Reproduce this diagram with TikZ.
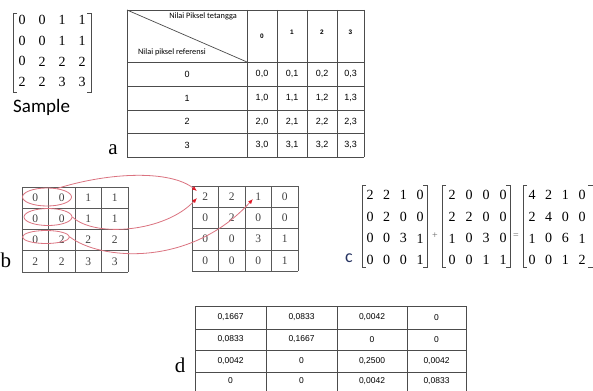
\documentclass[tikz,border=0pt]{standalone}
\usepackage{fontspec}
\setmainfont{Liberation Serif}
\newfontfamily\carl{Carlito}
\newfontfamily\arl{Liberation Sans}
\usetikzlibrary{arrows.meta,shapes.geometric}
\definecolor{gridc}{gray}{0.35}
\definecolor{tabc}{gray}{0.3}
\definecolor{curvec}{rgb}{0.86,0.45,0.5}
\definecolor{tipc}{rgb}{0.88,0.1,0.15}
\definecolor{cc}{rgb}{0.15,0.2,0.38}
\tikzset{
  mdig/.style={inner sep=0pt,font=\fontsize{14}{14}\selectfont},
  gdig/.style={inner sep=0pt,text=black!75,font=\fontsize{11.5}{11.5}\selectfont},
  bigletter/.style={inner sep=0pt,anchor=base,font=\fontsize{21}{21}\selectfont},
  tcell/.style={inner sep=0pt,font=\arl\fontsize{9}{9}\selectfont},
  dcell/.style={inner sep=0pt,font=\arl\fontsize{8.5}{8.5}\selectfont},
  thead/.style={inner sep=0pt,font=\arl\fontsize{6.5}{6.5}\selectfont\bfseries},
  tlabel/.style={inner sep=0pt,font=\carl\fontsize{8.3}{8.3}\selectfont},
  brk/.style={draw=black!70,line width=0.6pt},
  tline/.style={draw=tabc,line width=0.7pt},
  gline/.style={draw=gridc,line width=1pt},
  pairell/.style={ellipse,draw=curvec,line width=0.8pt,inner sep=0pt},
  link/.style={draw=curvec,line width=0.8pt,-{Latex[length=5pt,width=4pt,color=tipc]}},
  opsym/.style={inner sep=0pt,text=black!60,font=\fontsize{10}{10}\selectfont}
}
\begin{document}
\begin{tikzpicture}[x=1pt,y=-1pt]
\clip (0,0) rectangle (593,390);
\fill[white] (0,0) rectangle (593,390);

% ---------- Sample matrix ----------
\foreach \row [count=\i] in {{0,0,1,1},{0,0,1,1},{0,2,2,2},{2,2,3,3}}{
  \foreach \v [count=\j] in \row {
    \node[mdig] (s\i\j) at ({22+20*(\j-1)},{20+20.7*(\i-1)}) {\v};
  }
}
\draw[brk] (17,13) -| (13,92) -- (17,92);
\draw[brk] (87,13) -| (91,92) -- (87,92);
\node[inner sep=0pt,anchor=base west,font=\carl\fontsize{19}{19}\selectfont] (sample) at (13,113) {Sample};

% ---------- table a ----------
\foreach \y in {10,62,86,110,133,157} \draw[tline] (127,\y) -- (364,\y);
\foreach \x in {127,247,277,307,337,364} \draw[tline] (\x,10) -- (\x,157);
\draw[tline] (127,10) -- (247,62);
\node[tlabel] (hdtop) at (203,16) {Nilai Piksel tetangga};
\node[tlabel] (hdref) at (172,52) {Nilai piksel referensi};
\node[thead] (h0) at (262,36) {0};
\node[thead] (h1) at (292,32) {1};
\node[thead] (h2) at (322,32) {2};
\node[thead] (h3) at (350.5,32) {3};
\foreach \r/\y in {0/74,1/98,2/121.5,3/145}{
  \node[tcell] (rl\r) at (187,\y) {\r};
  \foreach \c/\x in {0/262,1/292,2/322,3/350.5}{
    \node[tcell] (t\r\c) at (\x,\y) {\r,\c};
  }
}
\node[bigletter] (la) at (113,154) {a};

% ---------- b grids ----------
\foreach \y in {187,208,229,250,272} \draw[gline] (22,\y) -- (128,\y);
\foreach \x in {22,48.5,75,101.5,128} \draw[gline] (\x,187) -- (\x,272);
\foreach \row [count=\i] in {{0,0,1,1},{0,0,1,1},{0,2,2,2},{2,2,3,3}}{
  \foreach \v [count=\j] in \row {
    \node[gdig] (L\i\j) at ({35.25+26.5*(\j-1)},{197.5+21.25*(\i-1)}) {\v};
  }
}
\foreach \y in {186,207,228,250,271} \draw[gline] (192,\y) -- (298,\y);
\foreach \x in {192,218.5,245,271.5,298} \draw[gline] (\x,186) -- (\x,271);
\foreach \row [count=\i] in {{2,2,1,0},{0,2,0,0},{0,0,3,1},{0,0,0,1}}{
  \foreach \v [count=\j] in \row {
    \node[gdig] (R\i\j) at ({205.25+26.5*(\j-1)},{196.5+21.25*(\i-1)}) {\v};
  }
}
\node[pairell,minimum width=49pt,minimum height=18pt] (e1) at (47,197) {};
\node[pairell,minimum width=48pt,minimum height=17pt] (e2) at (48,217) {};
\node[pairell,minimum width=47pt,minimum height=13pt] (e3) at (46,237) {};
\coordinate (t1) at (197,191);
\coordinate (t2) at (197,198);
\coordinate (t3) at (253,199);
\draw[link] (e1.40) .. controls (110,172) and (170,170) .. (t1);
\draw[link] (e2.east) .. controls (95,238) and (165,232) .. (t2);
\draw[link] (e3.east) .. controls (100,260) and (190,268) .. (t3);
\node[bigletter] (lb) at (6,267) {b};

% ---------- c matrices ----------
\foreach \row [count=\i] in {{2,2,1,0},{0,2,0,0},{0,0,3,1},{0,0,0,1}}{
  \foreach \v [count=\j] in \row {
    \node[mdig] (A\i\j) at ({370+16.7*(\j-1)},{195+21.7*(\i-1)}) {\v};
  }
}
\foreach \row [count=\i] in {{2,0,0,0},{2,2,0,0},{1,0,3,0},{0,0,1,1}}{
  \foreach \v [count=\j] in \row {
    \node[mdig] (B\i\j) at ({452+17*(\j-1)},{195+21.7*(\i-1)}) {\v};
  }
}
\foreach \row [count=\i] in {{4,2,1,0},{2,4,0,0},{1,0,6,1},{0,0,1,2}}{
  \foreach \v [count=\j] in \row {
    \node[mdig] (C\i\j) at ({532+16.7*(\j-1)},{195+21.7*(\i-1)}) {\v};
  }
}
\draw[brk] (366,185) -| (362,267) -- (366,267);
\draw[brk] (423,185) -| (427,267) -- (423,267);
\draw[brk] (446,185) -| (442,267) -- (446,267);
\draw[brk] (506,185) -| (510,267) -- (506,267);
\draw[brk] (527,185) -| (523,267) -- (527,267);
\draw[brk] (588,185) -| (594,267) -- (588,267);
\node[opsym] (plus) at (435,236) {+};
\node[opsym] (eq) at (516,236) {=};
\node[inner sep=0pt,anchor=base,text=cc,font=\carl\fontsize{18}{18}\selectfont] (lc) at (349,262) {c};

% ---------- table d ----------
\foreach \y in {306,329,350,372,394} \draw[tline,line width=0.9pt] (195,\y) -- (466,\y);
\foreach \x in {195,266,337,407,466} \draw[tline,line width=0.9pt] (\x,306) -- (\x,394);
\node[dcell] (d11) at (230.5,317.5) {0,1667};
\node[dcell] (d12) at (301.5,317.5) {0,0833};
\node[dcell] (d13) at (372,317.5) {0,0042};
\node[dcell] (d14) at (436.5,317.5) {0};
\node[dcell] (d21) at (230.5,339.5) {0,0833};
\node[dcell] (d22) at (301.5,339.5) {0,1667};
\node[dcell] (d23) at (372,339.5) {0};
\node[dcell] (d24) at (436.5,339.5) {0};
\node[dcell] (d31) at (230.5,361) {0,0042};
\node[dcell] (d32) at (301.5,361) {0};
\node[dcell] (d33) at (372,361) {0,2500};
\node[dcell] (d34) at (436.5,361) {0,0042};
\node[dcell] (d41) at (230.5,381) {0};
\node[dcell] (d42) at (301.5,381) {0};
\node[dcell] (d43) at (372,381) {0,0042};
\node[dcell] (d44) at (436.5,381) {0,0833};
\node[bigletter] (ld) at (180,372) {d};
\end{tikzpicture}
\end{document}
